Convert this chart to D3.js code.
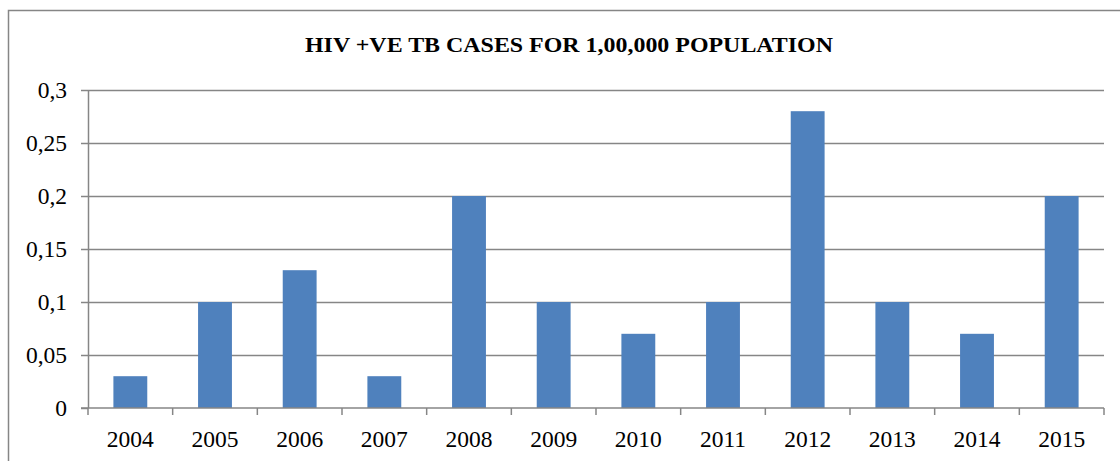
<!DOCTYPE html>
<html>
<head>
<meta charset="utf-8">
<script src="https://cdn.jsdelivr.net/npm/d3@7"></script>
<style>
  html, body { margin: 0; padding: 0; background: #fff; }
  svg { display: block; }
  svg text { font-family: "Liberation Serif", "Times New Roman", Times, serif !important; fill: #000; }
</style>
</head>
<body>
<div id="chart"></div>
<script>
// Data
const years = ["2004", "2005", "2006", "2007", "2008", "2009", "2010", "2011", "2012", "2013", "2014", "2015"];
const cases = [0.03, 0.1, 0.13, 0.03, 0.2, 0.1, 0.07, 0.1, 0.28, 0.1, 0.07, 0.2];
const yTicks = [0, 0.05, 0.1, 0.15, 0.2, 0.25, 0.3];
const title = "HIV +VE TB CASES FOR 1,00,000 POPULATION";

const width = 1120, height = 461;
const margin = { top: 90, right: 16, bottom: 53, left: 88 };
const gridColor = "#868686";
const labelSize = 23.5;

const svg = d3.select("#chart").append("svg")
    .attr("width", width)
    .attr("height", height)
    .attr("font-family", "Liberation Serif");

// outer chart border (runs off the right and bottom edges)
svg.append("rect")
    .attr("x", 8.5).attr("y", 10.5)
    .attr("width", width + 10).attr("height", height + 10)
    .attr("fill", "none")
    .attr("stroke", gridColor)
    .attr("stroke-width", 1.5);

svg.append("text")
    .attr("x", 569).attr("y", 52)
    .attr("text-anchor", "middle")
    .attr("font-weight", "bold")
    .attr("font-size", 22)
    .attr("textLength", 528)
    .attr("lengthAdjust", "spacingAndGlyphs")
    .text(title);

const x = d3.scaleBand()
    .domain(years)
    .range([margin.left, width - margin.right])
    .paddingInner(0.6)
    .paddingOuter(0.3);

const xTickScale = d3.scaleBand()
    .domain(years)
    .range([margin.left, width - margin.right]);

const y = d3.scaleLinear()
    .domain([0, 0.3])
    .range([height - margin.bottom, margin.top]);

const fmt = d => d3.format("~g")(d).replace(".", ",");

// y axis with gridlines
svg.append("g")
    .attr("transform", `translate(${margin.left},0)`)
    .call(d3.axisLeft(y).tickValues(yTicks).tickFormat(fmt).tickSize(7).tickPadding(14))
    .attr("font-family", null)
    .attr("font-size", null)
    .call(g => g.selectAll(".tick line").attr("stroke", gridColor).attr("stroke-width", 1.5))
    .call(g => g.select(".domain").attr("stroke", gridColor).attr("stroke-width", 1.5).attr("d", `M0.5,${y(0.3)}V${y(0)}`))
    .call(g => g.selectAll(".tick text").attr("font-size", labelSize).attr("fill", "#000").attr("dy", "0.33em"))
    .call(g => g.selectAll(".tick").filter(d => d > 0).append("line")
        .attr("x2", width - margin.right - margin.left)
        .attr("stroke", gridColor)
        .attr("stroke-width", 1.5));

// bars
svg.append("g")
    .selectAll("rect")
    .data(years)
    .join("rect")
    .attr("x", d => x(d))
    .attr("y", (d, i) => y(cases[i]))
    .attr("width", x.bandwidth())
    .attr("height", (d, i) => y(0) - y(cases[i]))
    .attr("fill", "#4F81BD");

// x axis
const xAxis = svg.append("g")
    .attr("transform", `translate(0,${y(0)})`);
xAxis.append("line")
    .attr("x1", margin.left - 7).attr("x2", width - margin.right)
    .attr("stroke", gridColor).attr("stroke-width", 1.5);
xAxis.selectAll(".xt")
    .data([...years.map(d => xTickScale(d)), width - margin.right])
    .join("line")
    .attr("x1", d => d).attr("x2", d => d)
    .attr("y1", 0).attr("y2", 7)
    .attr("stroke", gridColor).attr("stroke-width", 1.5);
xAxis.selectAll("text")
    .data(years)
    .join("text")
    .attr("x", d => xTickScale(d) + xTickScale.bandwidth() / 2)
    .attr("y", 39)
    .attr("text-anchor", "middle")
    .attr("font-size", labelSize)
    .text(d => d);
</script>
</body>
</html>
